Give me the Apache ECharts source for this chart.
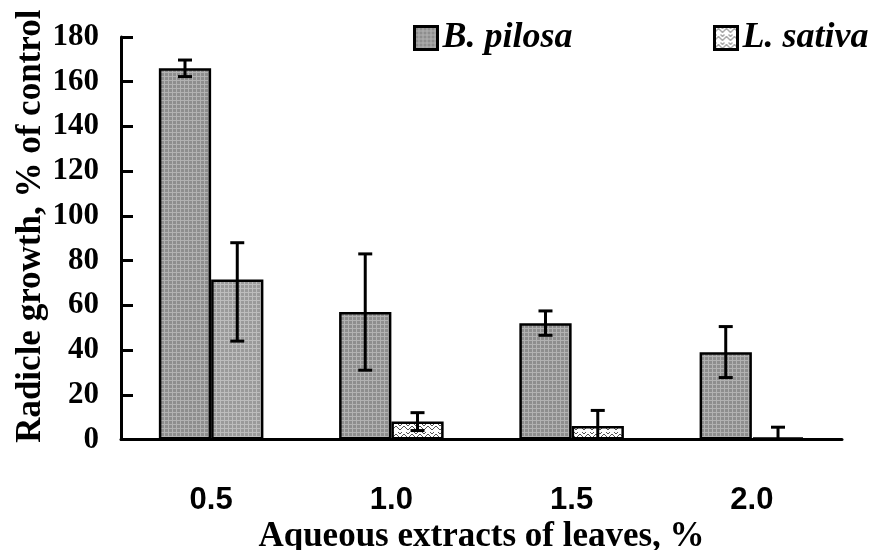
<!DOCTYPE html>
<html>
<head>
<meta charset="utf-8">
<script src="https://cdn.jsdelivr.net/npm/echarts@6/dist/echarts.min.js"></script>
<style>html,body{margin:0;padding:0;background:#fff;}#c{width:873px;height:550px;}</style>
</head>
<body>
<div id="c"></div>
<script>
var categories = ['0.5', '1.0', '1.5', '2.0'];
var yTicks = [0, 20, 40, 60, 80, 100, 120, 140, 160, 180];
var bPilosa = [166, 57, 52, 39];
var bPilosaHi = [169.7, 83, 57.5, 50.5];
var bPilosaLo = [162.3, 31, 46.6, 27.7];
var lSativa = [71.5, 8, 6, 1];
var lSativaHi = [88, 12, 13, 5.5];
var lSativaLo = [44, 4, 0, 0];

function greyPattern(light) {
  var c = document.createElement('canvas');
  c.width = 4; c.height = 4;
  var g = c.getContext('2d');
  g.fillStyle = light ? '#9a9a9a' : '#8e8e8e';
  g.fillRect(0, 0, 4, 4);
  g.fillStyle = light ? '#bdbdbd' : '#b2b2b2';
  g.fillRect(0, 0, 4, 1);
  g.fillRect(0, 0, 1, 4);
  return c;
}
function hatchPattern() {
  var c = document.createElement('canvas');
  c.width = 8; c.height = 8;
  var g = c.getContext('2d');
  g.fillStyle = '#ffffff';
  g.fillRect(0, 0, 8, 8);
  g.strokeStyle = '#555555';
  g.lineWidth = 1;
  g.beginPath();
  g.moveTo(0, 6); g.lineTo(4, 2); g.lineTo(8, 6);
  g.moveTo(0, 2); g.lineTo(2, 0);
  g.moveTo(6, 0); g.lineTo(8, 2);
  g.stroke();
  return c;
}
var gP = { image: greyPattern(false), repeat: 'repeat' };
var gP2 = { image: greyPattern(true), repeat: 'repeat' };
var hP = { image: hatchPattern(), repeat: 'repeat' };

var chart = echarts.init(document.getElementById('c'));

function errItem(hi, lo, side) {
  return function (params, api) {
    var i = api.value(0);
    var band = api.size([1, 0])[0];
    var bw = band * 0.29;
    var cx = api.coord([i, 0])[0] + side * bw / 2;
    var yHi = api.coord([i, hi[i]])[1];
    var yLo = api.coord([i, lo[i]])[1];
    var cap = 7;
    var st = { stroke: '#000', lineWidth: 3 };
    var children = [
      { type: 'line', shape: { x1: cx, y1: yHi, x2: cx, y2: yLo }, style: st },
      { type: 'line', shape: { x1: cx - cap, y1: yHi, x2: cx + cap, y2: yHi }, style: st }
    ];
    if (lo[i] > 0) {
      children.push({ type: 'line', shape: { x1: cx - cap, y1: yLo, x2: cx + cap, y2: yLo }, style: st });
    }
    return { type: 'group', children: children };
  };
}

var serif = 'Liberation Serif, Times New Roman, serif';
var legendBase = {
  top: 15,
  icon: 'rect',
  itemWidth: 23, itemHeight: 23,
  itemStyle: { borderWidth: 3, borderColor: '#000' },
  textStyle: { fontFamily: serif, fontWeight: 'bold', fontStyle: 'italic', fontSize: 36, color: '#000' },
  selectedMode: false
};

chart.setOption({
  animation: false,
  grid: { left: 121, right: 31, top: 37, bottom: 110.5, containLabel: false, outerBoundsMode: 'none' },
  legend: [
    Object.assign({}, legendBase, { left: 408, data: ['B. pilosa'] }),
    Object.assign({}, legendBase, { left: 708, data: ['L. sativa'] })
  ],
  xAxis: {
    type: 'category',
    data: categories,
    axisLine: { lineStyle: { color: '#000', width: 3 } },
    axisTick: { inside: true, length: 10, lineStyle: { color: '#000', width: 3 } },
    axisLabel: { margin: 45, fontFamily: 'Liberation Sans, Arial, sans-serif', fontWeight: 'bold', fontSize: 31, color: '#000' },
    name: 'Aqueous extracts of leaves, %',
    nameLocation: 'middle',
    nameGap: 80,
    nameMoveOverlap: false,
    nameTextStyle: { fontFamily: serif, fontWeight: 'bold', fontSize: 35, color: '#000' }
  },
  yAxis: {
    type: 'value',
    min: 0, max: 180, interval: 20,
    splitLine: { show: false },
    axisLine: { show: true, lineStyle: { color: '#000', width: 3 } },
    axisTick: { show: true, inside: true, length: 12, lineStyle: { color: '#000', width: 3 } },
    axisLabel: {
      margin: 22, fontFamily: serif, fontWeight: 'bold', fontSize: 31, color: '#000',
      formatter: function (v) { return yTicks.indexOf(v) >= 0 ? String(v) : ''; }
    },
    name: 'Radicle growth, % of control',
    nameLocation: 'middle',
    nameGap: 73,
    nameMoveOverlap: false,
    nameTextStyle: { fontFamily: serif, fontWeight: 'bold', fontSize: 35, color: '#000', padding: [0, 0, 0, 24] }
  },
  series: [
    {
      name: 'B. pilosa', type: 'bar', barWidth: '29%', barGap: '0%',
      itemStyle: { color: gP, borderColor: '#000', borderWidth: 2.5 },
      data: bPilosa
    },
    {
      name: 'L. sativa', type: 'bar', barWidth: '29%', barGap: '0%',
      itemStyle: { color: hP, borderColor: '#000', borderWidth: 2.5 },
      data: lSativa.map(function (v, i) {
        return i === 0 ? { value: v, itemStyle: { color: gP2 } } : v;
      })
    },
    {
      type: 'custom', renderItem: errItem(bPilosaHi, bPilosaLo, -1),
      data: categories.map(function (c, i) { return [i, bPilosaHi[i]]; }), z: 10, silent: true
    },
    {
      type: 'custom', renderItem: errItem(lSativaHi, lSativaLo, 1),
      data: categories.map(function (c, i) { return [i, lSativaHi[i]]; }), z: 10, silent: true
    }
  ]
});
</script>
</body>
</html>
